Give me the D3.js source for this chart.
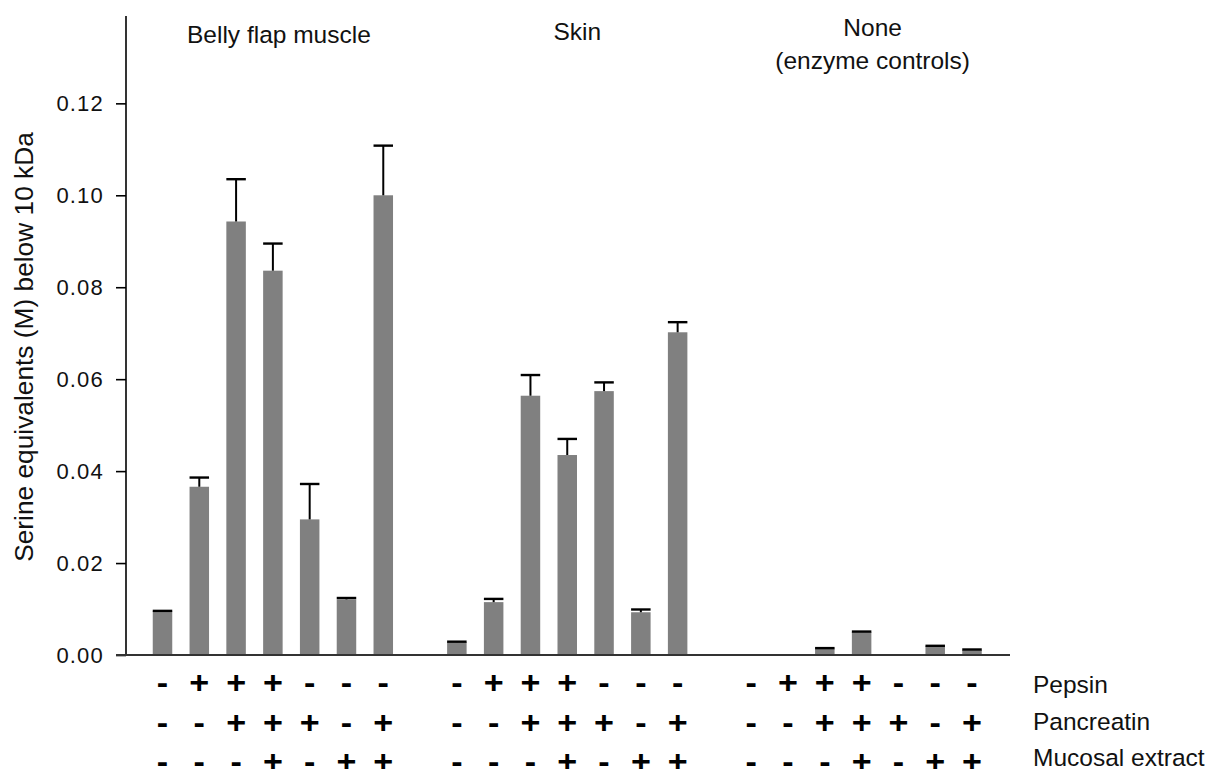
<!DOCTYPE html>
<html>
<head>
<meta charset="utf-8">
<script src="https://cdn.jsdelivr.net/npm/d3@7"></script>
<style>
  html, body { margin: 0; padding: 0; background: #fff; }
  svg { display: block; font-family: Arial, "Liberation Sans", sans-serif; }
</style>
</head>
<body>
<svg id="chart" width="1210" height="769"></svg>
<script>
// ---------- data ----------
const groups = ["Belly flap muscle", "Skin", "None"];
const groupSubtitles = ["", "", "(enzyme controls)"];
const bellyValues = [0.0095, 0.0366, 0.0943, 0.0836, 0.0295, 0.0121, 0.1000];
const bellyErrors = [0.0001, 0.0020, 0.0092, 0.0059, 0.0077, 0.0003, 0.0108];
const skinValues  = [0.0028, 0.0115, 0.0564, 0.0435, 0.0574, 0.0093, 0.0702];
const skinErrors  = [0.0001, 0.0007, 0.0045, 0.0035, 0.0019, 0.0006, 0.0022];
const noneValues  = [0, 0, 0.0014, 0.0050, 0, 0.0019, 0.0011];
const noneErrors  = [0, 0, 0.0001, 0.0001, 0, 0.0001, 0.0001];
const pepsin     = ["-", "+", "+", "+", "-", "-", "-"];
const pancreatin = ["-", "-", "+", "+", "+", "-", "+"];
const mucosal    = ["-", "-", "-", "+", "-", "+", "+"];
const treatmentNames = ["Pepsin", "Pancreatin", "Mucosal extract"];
const yTicks = [0, 0.02, 0.04, 0.06, 0.08, 0.10, 0.12];
const yTitle = "Serine equivalents (M) below 10 kDa";

// ---------- build ----------
const groupValues = [bellyValues, skinValues, noneValues];
const groupErrors = [bellyErrors, skinErrors, noneErrors];
const slotsPerGroup = 8;
const nSlots = groups.length * slotsPerGroup - 1;
const records = [];
groups.forEach((g, gi) => {
  groupValues[gi].forEach((v, i) => {
    records.push({ group: g, gi, i, slot: gi * slotsPerGroup + i, value: v, err: groupErrors[gi][i] });
  });
});

const svg = d3.select("#chart");
const y0 = 655, yTop = 16;
const y = d3.scaleLinear().domain([0, 0.139]).range([y0, yTop]);
const x = d3.scaleBand()
  .domain(d3.range(nSlots))
  .range([144.1, 990.4])
  .paddingInner(0.47)
  .paddingOuter(0.235);
const bw = x.bandwidth();
const cx = s => x(s) + bw / 2;

// y axis
const axisX = 126;
const yAxis = d3.axisLeft(y).tickValues(yTicks).tickFormat(d3.format(".2f")).tickSize(10).tickSizeOuter(0).tickPadding(12);
const ga = svg.append("g").attr("transform", `translate(${axisX},0)`).call(yAxis);
ga.select(".domain").remove();
ga.selectAll(".tick line").attr("stroke", "#000").attr("stroke-width", 1.6);
ga.selectAll(".tick text").attr("font-size", 22).attr("letter-spacing", 1.2).attr("fill", "#111")
  .attr("font-family", "Arial, 'Liberation Sans', sans-serif");
svg.append("line").attr("x1", axisX).attr("x2", axisX).attr("y1", yTop).attr("y2", y0)
  .attr("stroke", "#000").attr("stroke-width", 1.6);

// bars
const shown = records.filter(d => d.value > 0);
svg.append("g").selectAll("rect").data(shown).join("rect")
  .attr("x", d => x(d.slot)).attr("width", bw)
  .attr("y", d => y(d.value)).attr("height", d => y0 - y(d.value))
  .attr("fill", "#808080");

// error bars
const eg = svg.append("g").attr("stroke", "#000");
eg.selectAll("line.v").data(shown).join("line").attr("class", "v")
  .attr("x1", d => cx(d.slot)).attr("x2", d => cx(d.slot))
  .attr("y1", d => y(d.value)).attr("y2", d => y(d.value + d.err))
  .attr("stroke-width", 2);
eg.selectAll("line.c").data(shown).join("line").attr("class", "c")
  .attr("x1", d => x(d.slot)).attr("x2", d => x(d.slot) + bw)
  .attr("y1", d => y(d.value + d.err)).attr("y2", d => y(d.value + d.err))
  .attr("stroke-width", 2.4);

// x axis line
svg.append("line").attr("x1", 116).attr("x2", 1010).attr("y1", y0).attr("y2", y0)
  .attr("stroke", "#333").attr("stroke-width", 2);

// group titles
const titleOffset = [6, 10, 11];
const titleBase = [43, 40, 36];
groups.forEach((g, gi) => {
  const c = cx(gi * slotsPerGroup + 3) + titleOffset[gi];
  svg.append("text").attr("x", c).attr("y", titleBase[gi]).attr("text-anchor", "middle")
    .attr("font-size", 24.5).attr("fill", "#111").text(g);
  if (groupSubtitles[gi]) {
    svg.append("text").attr("x", c).attr("y", 69).attr("text-anchor", "middle")
      .attr("font-size", 24.5).attr("fill", "#111").text(groupSubtitles[gi]);
  }
});

// y title
svg.append("text").attr("transform", "translate(33,347) rotate(-90)")
  .attr("text-anchor", "middle").attr("font-size", 26.3).attr("fill", "#111").text(yTitle);

// treatment rows
const treatRows = [pepsin, pancreatin, mucosal];
const rowBase = [693.2, 732.6, 772.3];
const labelBase = [693, 729.5, 766];
treatRows.forEach((row, ri) => {
  const signs = [];
  groups.forEach((g, gi) => row.forEach((s, i) => signs.push({ s, slot: gi * slotsPerGroup + i })));
  svg.append("g").selectAll("text").data(signs).join("text")
    .attr("transform", d => `translate(${cx(d.slot)},${rowBase[ri]}) scale(1.1,1)`)
    .attr("text-anchor", "middle").attr("font-size", 31).attr("font-weight", "bold")
    .attr("fill", "#000").text(d => d.s);
  svg.append("text").attr("x", 1033).attr("y", labelBase[ri]).attr("font-size", 24.5)
    .attr("fill", "#111").text(treatmentNames[ri]);
});
</script>
</body>
</html>
